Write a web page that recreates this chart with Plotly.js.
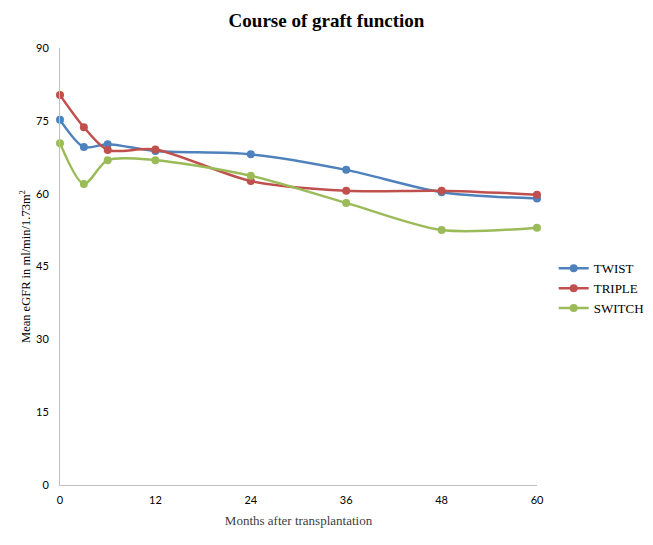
<!DOCTYPE html>
<html>
<head>
<meta charset="utf-8">
<script src="https://cdn.plot.ly/plotly-3.0.1.min.js"></script>
<style>html,body{margin:0;padding:0;background:#fff;}#chart{width:653px;height:545px;}</style>
</head>
<body>
<div id="chart"></div>
<script>
const months = [0, 3, 6, 12, 24, 36, 48, 60];
const twist  = [75.2, 69.6, 70.2, 68.8, 68.1, 64.9, 60.3, 59.0];
const triple = [80.3, 73.7, 69.0, 69.1, 62.6, 60.6, 60.6, 59.8];
const sw     = [70.4, 62.0, 66.9, 66.9, 63.7, 58.1, 52.5, 53.0];
const xTicks = [0, 12, 24, 36, 48, 60];
const yTicks = [0, 15, 30, 45, 60, 75, 90];

function tr(name, y, color) {
  return {
    x: months, y: y, name: name, type: 'scatter', mode: 'lines+markers',
    line: {color: color, width: 2.5, shape: 'spline', smoothing: 0.8},
    marker: {color: color, size: 8},
    cliponaxis: false
  };
}
const data = [
  tr('TWIST', twist, '#4F81BD'),
  tr('TRIPLE', triple, '#C0504D'),
  tr('SWITCH', sw, '#9BBB59')
];
const layout = {
  width: 653, height: 545,
  margin: {l: 60, r: 116, t: 48, b: 60, autoexpand: false},
  paper_bgcolor: '#fff', plot_bgcolor: '#fff',
  title: {text: '<b>Course of graft function</b>', font: {family: 'Liberation Serif', size: 19, color: '#000'}, x: 0.5, xanchor: 'center', y: 0.962, yanchor: 'middle'},
  xaxis: {
    range: [0, 60], tickvals: xTicks, ticktext: xTicks.map(String),
    showgrid: false, zeroline: false, showline: true, linecolor: '#BFBFBF', linewidth: 1,
    ticks: '', ticklabelstandoff: 5, tickfont: {family: 'Lato', size: 11, color: '#000'},
    title: {text: 'Months after transplantation', font: {family: 'Liberation Serif', size: 13, color: '#404040'}, standoff: 10}
  },
  yaxis: {
    range: [0, 90], tickvals: yTicks, ticktext: yTicks.map(String),
    showgrid: false, zeroline: false, showline: true, linecolor: '#BFBFBF', linewidth: 1,
    ticks: '', ticklabelstandoff: 8, tickfont: {family: 'Lato', size: 11, color: '#000'},
    title: {text: 'Mean eGFR in ml/min/1.73m<sup>2</sup>', font: {family: 'Liberation Serif', size: 12.5, color: '#000'}, standoff: 2}
  },
  legend: {x: 1.035, y: 0.45, xanchor: 'left', yanchor: 'middle', font: {family: 'Liberation Serif', size: 13, color: '#000'}, tracegroupgap: 0, itemwidth: 30},
  showlegend: true
};
Plotly.newPlot('chart', data, layout, {displayModeBar: false, staticPlot: true});
</script>
</body>
</html>
